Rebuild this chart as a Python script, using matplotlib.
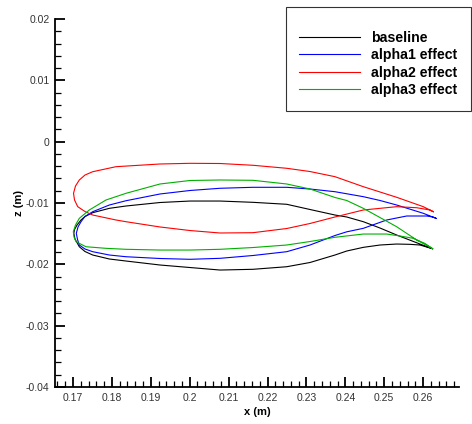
import matplotlib
matplotlib.use("Agg")
import matplotlib.pyplot as plt
from matplotlib.ticker import MultipleLocator, FuncFormatter

plt.rcParams['font.family'] = ['Liberation Sans', 'DejaVu Sans']

# airfoil sections, closed loop: trailing edge -> upper surface -> leading edge -> lower surface -> trailing edge
base_x = [0.26237, 0.25920, 0.25321, 0.24892, 0.24463, 0.24036, 0.23735, 0.23093, 0.22494, 0.21627,
          0.20779, 0.20008, 0.19237, 0.18362, 0.17933, 0.17506, 0.17308, 0.17206, 0.17103, 0.17039, 0.17021,
          0.17051, 0.17162, 0.17308, 0.17506, 0.17933, 0.18362, 0.19237, 0.20008, 0.20779, 0.21627,
          0.22494, 0.23093, 0.23735, 0.24036, 0.24463, 0.24892, 0.25321, 0.25663, 0.25920, 0.26237]
base_z = [-0.01745, -0.01669, -0.01522, -0.01408, -0.01305, -0.01228, -0.01196, -0.01106, -0.01021, -0.00989,
          -0.00968, -0.00968, -0.00992, -0.01049, -0.01087, -0.01158, -0.01220, -0.01277, -0.01359, -0.01432, -0.01494,
          -0.01587, -0.01713, -0.01791, -0.01848, -0.01913, -0.01946, -0.02011, -0.02052, -0.02093, -0.02081,
          -0.02039, -0.01970, -0.01848, -0.01783, -0.01723, -0.01685, -0.01669, -0.01674, -0.01685, -0.01745]

a1_x = [0.26332, 0.26005, 0.25321, 0.24892, 0.24463, 0.23735, 0.23093, 0.22494, 0.21627, 0.20779,
        0.20008, 0.19237, 0.18362, 0.17933, 0.17506, 0.17308, 0.17206, 0.17129, 0.17085,
        0.17116, 0.17162, 0.17308, 0.17506, 0.17933, 0.18362, 0.19237, 0.20008, 0.20779, 0.21627,
        0.22494, 0.23093, 0.23735, 0.24036, 0.24463, 0.25064, 0.25578, 0.26093, 0.26254, 0.26332]
a1_z = [-0.01250, -0.01168, -0.01033, -0.00959, -0.00897, -0.00816, -0.00772, -0.00744, -0.00744, -0.00760,
        -0.00796, -0.00853, -0.00963, -0.01033, -0.01142, -0.01220, -0.01305, -0.01391, -0.01494,
        -0.01595, -0.01685, -0.01750, -0.01794, -0.01848, -0.01876, -0.01905, -0.01918, -0.01902, -0.01856,
        -0.01794, -0.01685, -0.01530, -0.01470, -0.01413, -0.01277, -0.01212, -0.01212, -0.01228, -0.01250]

a2_x = [0.26262, 0.26005, 0.25321, 0.24463, 0.23735, 0.23093, 0.22494, 0.21627, 0.20779, 0.20008,
        0.19237, 0.18105, 0.17506, 0.17308, 0.17162, 0.17064, 0.17013,
        0.17039, 0.17121, 0.17308, 0.17506, 0.18105, 0.18362, 0.19237, 0.20008, 0.20779, 0.21627,
        0.22494, 0.23093, 0.23735, 0.24463, 0.25321, 0.25835, 0.26177, 0.26262]
a2_z = [-0.01142, -0.01060, -0.00907, -0.00734, -0.00571, -0.00487, -0.00434, -0.00385, -0.00356, -0.00353,
        -0.00364, -0.00408, -0.00490, -0.00544, -0.00625, -0.00723, -0.00842,
        -0.00951, -0.01060, -0.01139, -0.01196, -0.01277, -0.01305, -0.01391, -0.01449, -0.01489, -0.01484,
        -0.01416, -0.01334, -0.01228, -0.01114, -0.01060, -0.01077, -0.01114, -0.01142]

a3_x = [0.26247, 0.25835, 0.25321, 0.24892, 0.24463, 0.24036, 0.23735, 0.23093, 0.22494, 0.21627,
        0.20779, 0.20008, 0.19237, 0.18362, 0.17848, 0.17419, 0.17162, 0.17064, 0.17008,
        0.17026, 0.17077, 0.17334, 0.17848, 0.18362, 0.19237, 0.20008, 0.20779, 0.21627, 0.22494,
        0.23093, 0.23735, 0.24463, 0.25064, 0.25406, 0.25748, 0.26049, 0.26247]
a3_z = [-0.01745, -0.01603, -0.01387, -0.01237, -0.01087, -0.00959, -0.00910, -0.00772, -0.00690, -0.00630,
        -0.00625, -0.00633, -0.00690, -0.00842, -0.00951, -0.01114, -0.01250, -0.01359, -0.01468,
        -0.01555, -0.01631, -0.01713, -0.01739, -0.01755, -0.01767, -0.01767, -0.01755, -0.01726, -0.01685,
        -0.01628, -0.01559, -0.01506, -0.01506, -0.01538, -0.01576, -0.01660, -0.01745]

labels = ['baseline', 'alpha1 effect', 'alpha2 effect', 'alpha3 effect']
colors = ['black', '#0000ff', '#ff0000', '#00b000']

fig = plt.figure(figsize=(4.72, 4.24), dpi=100)
ax = fig.add_axes([55 / 472, 37 / 424, 404 / 472, 368 / 424])

for xs, zs, lab, c in zip([base_x, a1_x, a2_x, a3_x], [base_z, a1_z, a2_z, a3_z], labels, colors):
    ax.plot(xs, zs, color=c, lw=0.8, label=lab)

ax.set_xlim(0.16537, 0.26923)
ax.set_ylim(-0.04, 0.02)
ax.xaxis.set_major_locator(MultipleLocator(0.01))
ax.xaxis.set_minor_locator(MultipleLocator(0.002))
ax.yaxis.set_major_locator(MultipleLocator(0.01))
ax.yaxis.set_minor_locator(MultipleLocator(0.002))
ax.xaxis.set_major_formatter(FuncFormatter(lambda v, p: f'{v:g}'))
ax.yaxis.set_major_formatter(FuncFormatter(lambda v, p: '0' if abs(v) < 1e-9 else f'{v:g}'))

for s in ['top', 'right']:
    ax.spines[s].set_visible(False)
for s in ['left', 'bottom']:
    ax.spines[s].set_linewidth(1.3)

ax.tick_params(which='major', direction='in', length=7, width=1.3, labelsize=7.5,
               labelcolor='#333333', pad=4)
ax.tick_params(which='minor', direction='in', length=4, width=0.9)

ax.set_xlabel('x (m)', fontsize=8, fontweight='bold', labelpad=3)
ax.set_ylabel('z (m)', fontsize=8, fontweight='bold', labelpad=1)

leg = fig.legend(loc='upper right', bbox_to_anchor=(471 / 472, 1 - 7 / 424), borderaxespad=0,
                 prop={'size': 10.2, 'weight': 'bold'}, frameon=True, fancybox=False,
                 handlelength=4.3, handletextpad=0.8, labelspacing=0.24, borderpad=0.95,
                 title=' ', title_fontsize=5)
leg.get_frame().set_edgecolor('black')
leg.get_frame().set_linewidth(0.8)

fig.savefig('out.png', dpi=100)
